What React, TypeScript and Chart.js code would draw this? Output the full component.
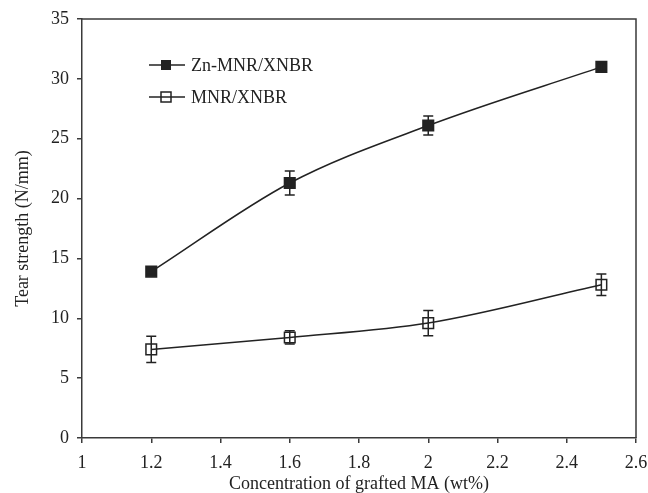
import React, { useEffect, useRef } from "react";
import { Chart, registerables } from "chart.js";

Chart.register(...registerables);

const xValues = [1.2, 1.6, 2.0, 2.5];
const seriesNames = ["Zn-MNR/XNBR", "MNR/XNBR"];
const znMnrXnbr = [13.9, 21.3, 26.1, 31.0];
const znMnrXnbrErr = [0.2, 1.0, 0.8, 0.25];
const mnrXnbr = [7.4, 8.4, 9.6, 12.8];
const mnrXnbrErr = [1.1, 0.55, 1.05, 0.9];
const xTitle = "Concentration of grafted MA (wt%)";
const yTitle = "Tear strength (N/mm)";

const FONT = "'Liberation Serif', 'Times New Roman', serif";
const TEXT = "#222";
const AXIS = "#3a3a3a";
const LINE = "#222";

const errors = [znMnrXnbrErr, mnrXnbrErr];

const errorBarPlugin = {
  id: "errorBars",
  afterDatasetsDraw(chart: any) {
    const ctx = chart.ctx;
    const xs = chart.scales.x;
    const ys = chart.scales.y;
    ctx.save();
    ctx.strokeStyle = LINE;
    ctx.lineWidth = 1.5;
    chart.data.datasets.forEach((ds: any, di: number) => {
      ds.data.forEach((p: any, i: number) => {
        const e = errors[di][i];
        const px = xs.getPixelForValue(p.x);
        const top = ys.getPixelForValue(p.y + e);
        const bot = ys.getPixelForValue(p.y - e);
        ctx.beginPath();
        ctx.moveTo(px, top);
        ctx.lineTo(px, bot);
        ctx.moveTo(px - 5, top);
        ctx.lineTo(px + 5, top);
        ctx.moveTo(px - 5, bot);
        ctx.lineTo(px + 5, bot);
        ctx.stroke();
      });
    });
    ctx.restore();
  },
};

const framePlugin = {
  id: "frame",
  afterDraw(chart: any) {
    const { left, right, top, bottom } = chart.chartArea;
    const ctx = chart.ctx;
    ctx.save();
    ctx.strokeStyle = AXIS;
    ctx.lineWidth = 1.5;
    ctx.beginPath();
    ctx.moveTo(left, top);
    ctx.lineTo(right, top);
    ctx.lineTo(right, bottom);
    ctx.stroke();
    ctx.restore();
  },
};

const legendPlugin = {
  id: "customLegend",
  afterDraw(chart: any) {
    const ctx = chart.ctx;
    const rows = [65, 97];
    ctx.save();
    chart.data.datasets.forEach((ds: any, i: number) => {
      const y = rows[i];
      ctx.strokeStyle = LINE;
      ctx.lineWidth = 1.5;
      ctx.beginPath();
      ctx.moveTo(149, y);
      ctx.lineTo(185, y);
      ctx.stroke();
      const s = 10;
      if (i === 0) {
        ctx.fillStyle = LINE;
        ctx.fillRect(166 - s / 2, y - s / 2, s, s);
      } else {
        ctx.fillStyle = "#fff";
        ctx.fillRect(166 - s / 2, y - s / 2, s, s);
        ctx.strokeRect(166 - s / 2, y - s / 2, s, s);
        ctx.beginPath();
        ctx.moveTo(166 - s / 2, y);
        ctx.lineTo(166 + s / 2, y);
        ctx.stroke();
      }
      ctx.fillStyle = TEXT;
      ctx.font = `18px ${FONT}`;
      ctx.textBaseline = "middle";
      ctx.textAlign = "left";
      ctx.fillText(ds.label, 191, y + 1);
    });
    ctx.restore();
  },
};

export default function App() {
  const ref = useRef<HTMLCanvasElement | null>(null);
  useEffect(() => {
    if (!ref.current) return;
    const chart = new Chart(ref.current, {
      type: "line",
      data: {
        datasets: [
          {
            label: seriesNames[0],
            data: xValues.map((x, i) => ({ x, y: znMnrXnbr[i] })),
            borderColor: LINE,
            borderWidth: 1.5,
            pointStyle: "rect",
            pointRadius: 7.5,
            pointBackgroundColor: LINE,
            pointBorderColor: LINE,
            pointBorderWidth: 1.5,
            cubicInterpolationMode: "monotone",
            fill: false,
          },
          {
            label: seriesNames[1],
            data: xValues.map((x, i) => ({ x, y: mnrXnbr[i] })),
            borderColor: LINE,
            borderWidth: 1.5,
            pointStyle: "rect",
            pointRadius: 7.5,
            pointBackgroundColor: "rgba(0,0,0,0)",
            pointBorderColor: LINE,
            pointBorderWidth: 1.5,
            cubicInterpolationMode: "monotone",
            fill: false,
          },
        ],
      },
      options: {
        responsive: false,
        animation: false,
        devicePixelRatio: 1,
        layout: { padding: { top: 19, right: 12, left: 0, bottom: 0 } },
        plugins: {
          legend: { display: false },
          tooltip: { enabled: false },
        },
        scales: {
          x: {
            type: "linear",
            min: 1,
            max: 2.6,
            ticks: {
              stepSize: 0.2,
              color: TEXT,
              font: { family: FONT, size: 18 },
              padding: 9,
              maxRotation: 0,
              autoSkip: false,
              callback: (v: any) => String(Math.round(Number(v) * 10) / 10),
            },
            grid: {
              display: true,
              drawOnChartArea: false,
              drawTicks: true,
              tickLength: 5,
              color: AXIS,
              lineWidth: 1.5,
            },
            border: { display: true, color: AXIS, width: 1.5 },
            title: {
              display: true,
              text: xTitle,
              color: TEXT,
              font: { family: FONT, size: 18, lineHeight: 1 },
              padding: { top: 0, bottom: 0 },
            },
            afterFit(scale: any) {
              scale.height = 55;
              scale.paddingRight = 0;
              scale.paddingLeft = 0;
            },
          },
          y: {
            type: "linear",
            min: 0,
            max: 35,
            ticks: {
              stepSize: 5,
              color: TEXT,
              font: { family: FONT, size: 18 },
              padding: 8,
            },
            grid: {
              display: true,
              drawOnChartArea: false,
              drawTicks: true,
              tickLength: 5,
              color: AXIS,
              lineWidth: 1.5,
            },
            border: { display: true, color: AXIS, width: 1.5 },
            title: {
              display: true,
              text: yTitle,
              color: TEXT,
              font: { family: FONT, size: 18 },
              padding: { top: 12, bottom: 0 },
            },
            afterFit(scale: any) {
              scale.width = 82;
              scale.paddingTop = 0;
              scale.paddingBottom = 0;
            },
          },
        },
      },
      plugins: [errorBarPlugin, framePlugin, legendPlugin],
    } as any);
    return () => chart.destroy();
  }, []);
  return (
    <div style={{ position: "fixed", left: 0, top: 0, width: 648, height: 493, background: "#fff" }}>
      <canvas ref={ref} width={648} height={493} style={{ display: "block" }} />
    </div>
  );
}
